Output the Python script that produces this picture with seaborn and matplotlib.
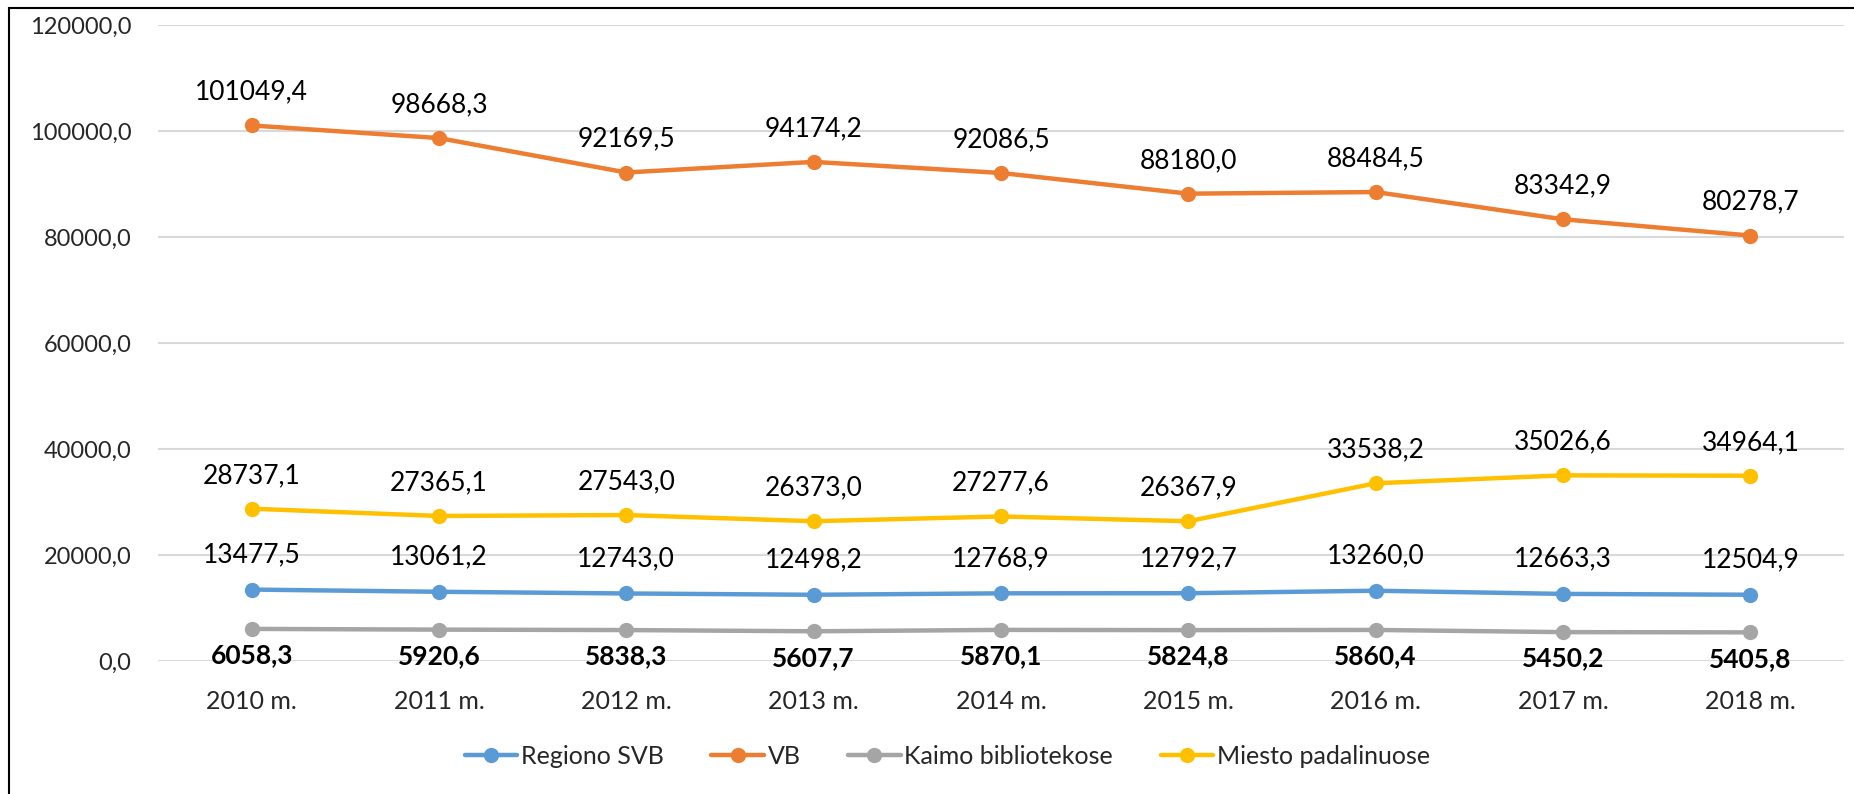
import matplotlib
matplotlib.use("Agg")
import matplotlib.pyplot as plt
import seaborn as sns
import pandas as pd
from matplotlib.patches import Rectangle

years = ["2010 m.", "2011 m.", "2012 m.", "2013 m.", "2014 m.", "2015 m.", "2016 m.", "2017 m.", "2018 m."]
regiono_svb = [13477.5, 13061.2, 12743.0, 12498.2, 12768.9, 12792.7, 13260.0, 12663.3, 12504.9]
vb = [101049.4, 98668.3, 92169.5, 94174.2, 92086.5, 88180.0, 88484.5, 83342.9, 80278.7]
kaimo = [6058.3, 5920.6, 5838.3, 5607.7, 5870.1, 5824.8, 5860.4, 5450.2, 5405.8]
miesto = [28737.1, 27365.1, 27543.0, 26373.0, 27277.6, 26367.9, 33538.2, 35026.6, 34964.1]
series_names = ["Regiono SVB", "VB", "Kaimo bibliotekose", "Miesto padalinuose"]
colors = ["#5B9BD5", "#ED7D31", "#A5A5A5", "#FFC000"]

sns.set_style("white")
plt.rcParams['font.family'] = ['Lato', 'DejaVu Sans']

rows = []
for name, vals in zip(series_names, [regiono_svb, vb, kaimo, miesto]):
    for i, (y, v) in enumerate(zip(years, vals)):
        rows.append({"idx": i, "year": y, "value": v, "series": name})
df = pd.DataFrame(rows)

fig = plt.figure(figsize=(18.54, 7.94), dpi=100)
ax = fig.add_axes([0.0852, 0.1675, 0.9094, 0.801])

sns.lineplot(data=df, x="idx", y="value", hue="series", hue_order=series_names,
             palette=colors, marker="o", markersize=11, markeredgewidth=0,
             linewidth=3.2, ax=ax, legend=True, sort=False)

ax.set_xlim(-0.5, len(years) - 0.5)
ax.set_ylim(0, 120000)
ax.set_yticks(range(0, 120001, 20000))
ax.set_yticklabels([f"{v},0" for v in range(0, 120001, 20000)], fontsize=17)
ax.set_xticks(range(len(years)))
ax.set_xticklabels(years, fontsize=18)
ax.tick_params(axis='both', length=0)
ax.tick_params(axis='y', pad=19)
ax.tick_params(axis='x', pad=21)
ax.set_xlabel("")
ax.set_ylabel("")
ax.grid(axis='y', color="#D9D9D9", linewidth=1.5)
ax.set_axisbelow(True)
for s in ax.spines.values():
    s.set_visible(False)

def fmt(v):
    return f"{v:.1f}".replace(".", ",")

for vals, off, weight in [(vb, 24, "normal"), (miesto, 24, "normal"),
                          (regiono_svb, 25, "normal"), (kaimo, -19, "bold")]:
    for i, v in enumerate(vals):
        ax.annotate(fmt(v), (i, v), xytext=(0, off), textcoords="offset points",
                    ha="center", va="center", fontsize=19, fontweight=weight, color="black")

handles, labels = ax.get_legend_handles_labels()
ax.legend_.remove()
fig.legend(handles, labels, loc="center", bbox_to_anchor=(0.511, 0.047), ncol=4,
           frameon=False, fontsize=18, handlelength=2.1, columnspacing=1.9,
           handletextpad=0.15)

fig.patches.append(Rectangle((9 / 1854, -0.01), 1.02, 1 - 8 / 794 + 0.01,
                             transform=fig.transFigure, fill=False,
                             edgecolor="black", linewidth=1.5))

fig.savefig("out.png", dpi=100)
